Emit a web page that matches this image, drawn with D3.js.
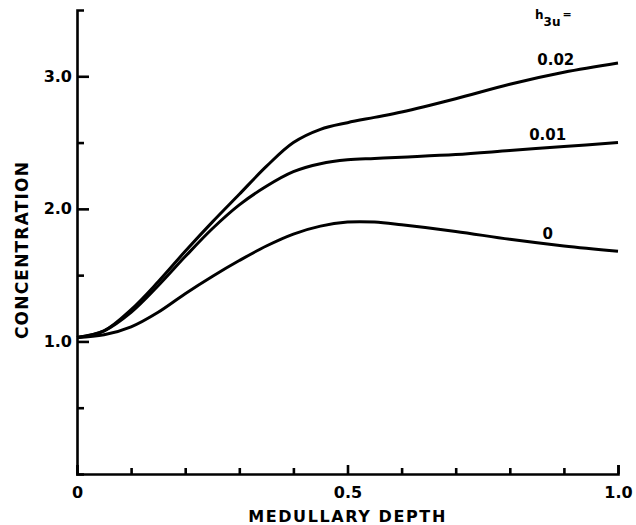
<!DOCTYPE html>
<html>
<head>
<meta charset="utf-8">
<script src="https://cdn.jsdelivr.net/npm/d3@7"></script>
<style>
  body { margin: 0; background: #fff; }
  svg text { font-family: "DejaVu Sans", sans-serif; font-weight: bold; fill: #000; }
</style>
</head>
<body>
<div id="chart"></div>
<script>
// depth along the medulla (0 = outer, 1 = papilla tip)
const depth = [0, 0.05, 0.1, 0.15, 0.2, 0.25, 0.3, 0.35, 0.4, 0.45, 0.5, 0.55, 0.6, 0.7, 0.8, 0.9, 1.0];

// concentration for each value of h3u
const conc002 = [1.03, 1.08, 1.24, 1.45, 1.68, 1.90, 2.11, 2.32, 2.50, 2.60, 2.65, 2.69, 2.73, 2.83, 2.94, 3.03, 3.10];
const conc001 = [1.03, 1.08, 1.22, 1.42, 1.64, 1.85, 2.03, 2.17, 2.28, 2.34, 2.37, 2.38, 2.39, 2.41, 2.44, 2.47, 2.50];
const conc000 = [1.03, 1.05, 1.11, 1.22, 1.36, 1.49, 1.61, 1.72, 1.81, 1.87, 1.90, 1.90, 1.88, 1.83, 1.77, 1.72, 1.68];

const seriesNames = ['0.02', '0.01', '0'];
const seriesValues = [conc002, conc001, conc000];

const yMajor = [1.0, 2.0, 3.0];
const yMinor = [0.5, 1.5, 2.5];
const xMajor = [0, 0.5, 1.0];
const xMinor = [0.1, 0.2, 0.3, 0.4, 0.6, 0.7, 0.8, 0.9];

const width = 636, height = 525;
const x0 = 77, x1 = 618, yBottom = 474, yTop = 10;

const xScale = d3.scaleLinear().domain([0, 1]).range([x0, x1]);
const yScale = d3.scaleLinear().domain([0, 3.5]).range([yBottom, yTop]);

const svg = d3.select('#chart').append('svg')
    .attr('width', width)
    .attr('height', height);

// y axis: ticks point inward (to the right)
const yAxis = svg.append('g')
    .attr('transform', 'translate(' + x0 + ',0)')
    .call(d3.axisLeft(yScale)
        .tickValues(yMajor)
        .tickSizeInner(-12)
        .tickSizeOuter(-7)
        .tickPadding(5)
        .tickFormat(d3.format('.1f')));

svg.append('g')
    .attr('transform', 'translate(' + x0 + ',0)')
    .call(d3.axisLeft(yScale).tickValues(yMinor).tickSize(-7).tickFormat(''))
    .select('.domain').remove();

// x axis: ticks point up
const xAxis = svg.append('g')
    .attr('transform', 'translate(0,' + yBottom + ')')
    .call(d3.axisBottom(xScale)
        .tickValues(xMajor)
        .tickSizeInner(-9)
        .tickSizeOuter(-9)
        .tickPadding(12)
        .tickFormat(d => d === 0 ? '0' : d3.format('.1f')(d)));

svg.append('g')
    .attr('transform', 'translate(0,' + yBottom + ')')
    .call(d3.axisBottom(xScale).tickValues(xMinor).tickSize(-6).tickFormat(''))
    .select('.domain').remove();

svg.selectAll('.domain, .tick line')
    .attr('stroke', '#000')
    .attr('stroke-width', 2.6);

svg.selectAll('.tick text')
    .attr('font-size', 16)
    .attr('font-family', '"DejaVu Sans", sans-serif')
    .attr('font-weight', 'bold');

xAxis.selectAll('.tick text').attr('dy', '0.75em');

// curves
const line = d3.line()
    .x((d, i) => xScale(depth[i]))
    .y(d => yScale(d))
    .curve(d3.curveCatmullRom.alpha(0.5));

svg.append('g').selectAll('path.curve')
    .data(seriesValues)
    .enter().append('path')
    .attr('class', 'curve')
    .attr('d', line)
    .attr('fill', 'none')
    .attr('stroke', '#000')
    .attr('stroke-width', 3);

// curve labels, just above each curve near the right end
svg.append('g').selectAll('text.lab')
    .data(seriesNames)
    .enter().append('text')
    .attr('class', 'lab')
    .attr('x', (d, i) => xScale(i === 0 ? 0.885 : 0.87))
    .attr('y', (d, i) => yScale(seriesValues[i][15]) - 7)
    .attr('text-anchor', 'middle')
    .attr('font-size', 15)
    .text(d => d);

// h3u = header
const hdr = svg.append('text')
    .attr('x', 535)
    .attr('y', 19)
    .attr('font-size', 12);
hdr.append('tspan').text('h');
hdr.append('tspan').attr('dy', 7).attr('font-size', 12).text('3u');
hdr.append('tspan').attr('dy', -8).attr('dx', 2).attr('font-size', 11).text('=');

// axis titles
svg.append('text')
    .attr('x', xScale(0.5))
    .attr('y', 522)
    .attr('text-anchor', 'middle')
    .attr('font-size', 16)
    .attr('letter-spacing', 1.6)
    .text('MEDULLARY DEPTH');

svg.append('text')
    .attr('transform', 'translate(28,' + 250 + ') rotate(-90)')
    .attr('text-anchor', 'middle')
    .attr('font-size', 17)
    .attr('letter-spacing', 1.2)
    .text('CONCENTRATION');
</script>
</body>
</html>
